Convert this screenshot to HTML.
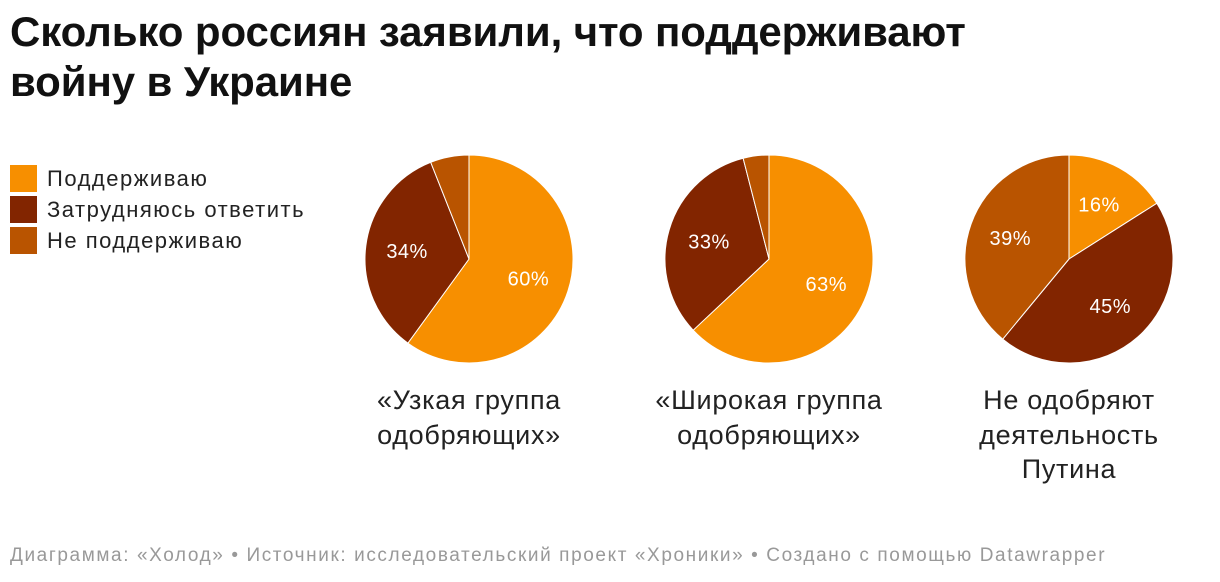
<!DOCTYPE html>
<html><head><meta charset="utf-8"><style>
body{margin:0;width:1220px;height:582px;background:#fff;font-family:"Liberation Sans",sans-serif;overflow:hidden;position:relative}
.t{position:absolute;left:10px;top:7px;font-size:42px;font-weight:bold;line-height:50px;color:#111;letter-spacing:-0.1px}
.lg{position:absolute;left:10px;font-size:22px;letter-spacing:1.5px;color:#222;display:flex;align-items:center;height:27px}
.lg i{display:inline-block;width:27px;height:27px;margin-right:10px}
.cap{position:absolute;top:383px;width:300px;text-align:center;font-size:27px;letter-spacing:0.7px;line-height:34.5px;color:#222}
.ft{position:absolute;left:10px;top:545px;font-size:19px;letter-spacing:1.6px;color:#999;white-space:nowrap}
</style></head><body>
<div class="t">Сколько россиян заявили, что поддерживают<br>войну в Украине</div>
<div class="lg" style="top:165px"><i style="background:#f78f00"></i>Поддерживаю</div>
<div class="lg" style="top:196px"><i style="background:#822500"></i>Затрудняюсь ответить</div>
<div class="lg" style="top:227px"><i style="background:#b95400"></i>Не поддерживаю</div>
<svg id="pies" width="1220" height="582" style="position:absolute;left:0;top:0"></svg>
<div class="cap" style="left:319px">«Узкая группа<br>одобряющих»</div>
<div class="cap" style="left:619px">«Широкая группа<br>одобряющих»</div>
<div class="cap" style="left:919px">Не одобряют<br>деятельность<br>Путина</div>
<div class="ft">Диаграмма: «Холод» • Источник: исследовательский проект «Хроники» • Создано с помощью Datawrapper</div>
<script>
const groups=["narrow","wide","disapprove"];
const support=[60,63,16];
const undecided=[34,33,45];
const oppose=[6,4,39];
const colors=["#f78f00","#822500","#b95400"];
const svg=document.getElementById('pies');
const NS="http://www.w3.org/2000/svg";
const R=104, cy=259;
function cx(i){return 469+i*300;}
function pt(x,y,r,a){return [x+r*Math.sin(a),y-r*Math.cos(a)];}
groups.forEach((g,i)=>{
  const vals=[support[i],undecided[i],oppose[i]];
  const tot=vals.reduce((a,b)=>a+b,0);
  let a0=0;
  vals.forEach((v,k)=>{
    const a1=a0+v/tot*2*Math.PI;
    const [x0,y0]=pt(cx(i),cy,R,a0),[x1,y1]=pt(cx(i),cy,R,a1);
    const p=document.createElementNS(NS,'path');
    p.setAttribute('d',`M${cx(i)},${cy}L${x0},${y0}A${R},${R} 0 ${a1-a0>Math.PI?1:0} 1 ${x1},${y1}Z`);
    p.setAttribute('fill',colors[k]);p.setAttribute('stroke','#fff');p.setAttribute('stroke-width','1');
    
    
    svg.appendChild(p);
    if(v>=10){
      const [lx,ly]=pt(cx(i),cy,R*0.6,(a0+a1)/2);
      const t=document.createElementNS(NS,'text');
      t.setAttribute('x',lx);t.setAttribute('y',ly+7);t.setAttribute('text-anchor','middle');
      t.setAttribute('fill','#fff');t.setAttribute('font-size','20');t.setAttribute('letter-spacing','0.5');t.setAttribute('font-family','Liberation Sans, sans-serif');
      t.textContent=v+'%';
      
      
      svg.appendChild(t);
    }
    a0=a1;
  });
});
</script>
</body></html>
